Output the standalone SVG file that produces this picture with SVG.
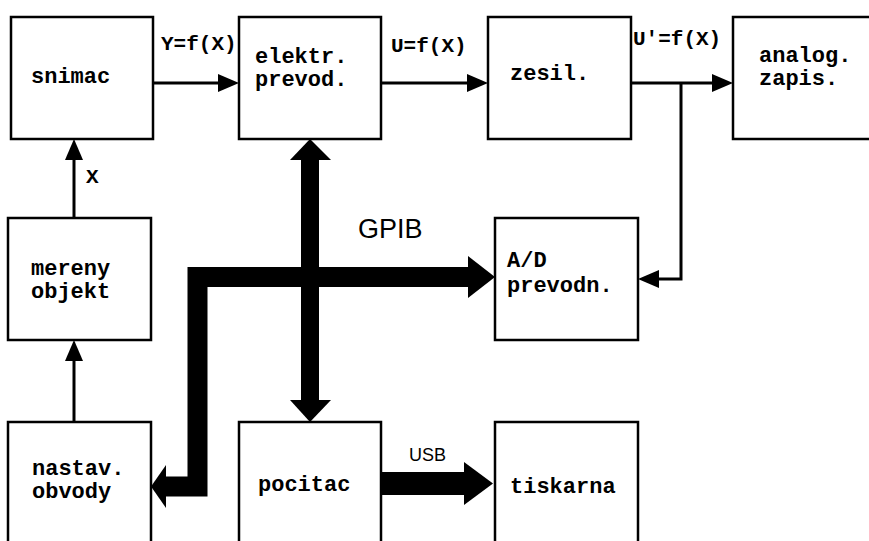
<svg xmlns="http://www.w3.org/2000/svg" width="869" height="541" viewBox="0 0 869 541">
  <style>
    .box { fill: #fff; stroke: #000; stroke-width: 2.5; }
    .lbl { font-family: "Liberation Mono", "Courier New", monospace; font-weight: bold; font-size: 22px; fill: #000; }
    .sig { font-family: "Liberation Mono", "Courier New", monospace; font-weight: bold; font-size: 21px; fill: #000; }
    .bus { font-family: "Liberation Sans", Arial, sans-serif; fill: #000; }
    .wire { fill: none; stroke: #000; stroke-width: 3; marker-end: url(#head); }
    .thick { fill: none; stroke: #000; stroke-linejoin: miter; }
    .big { fill: #000; }
  </style>
  <defs>
    <marker id="head" markerUnits="userSpaceOnUse" markerWidth="22" markerHeight="18" viewBox="0 0 21 18" refX="11" refY="9" orient="auto">
      <path d="M0,0 L21,9 L0,18 z" fill="#000"/>
    </marker>
  </defs>
  <rect width="869" height="541" fill="#fff"/>

  <g id="connectors">
    <!-- signal chain -->
    <path class="wire" d="M153,83 H229"/>
    <path class="wire" d="M381,83 H478"/>
    <path class="wire" d="M631,83 H723"/>
    <path class="wire" d="M681,83 V279 H648"/>
    <path class="wire" d="M74,218 V149"/>
    <path class="wire" d="M74,422 V350"/>
    <!-- GPIB bus -->
    <path class="thick" stroke-width="18" d="M310,158 V402"/>
    <polygon class="big" points="290,160 310,139 331,160"/>
    <polygon class="big" points="290,400 310,422 331,400"/>
    <path class="thick" stroke-width="20" d="M470,277 H197.5 V486.5 H164"/>
    <polygon class="big" points="468,256 495,277 468,298"/>
    <polygon class="big" points="166,465 151,486.5 166,508"/>
    <!-- USB -->
    <path class="thick" stroke-width="23" d="M381,483.5 H466"/>
    <polygon class="big" points="464,462 493,483.5 464,505"/>
    <!-- connector labels -->
    <text class="sig" x="161" y="50">Y=f(X)</text>
    <text class="sig" x="391" y="52">U=f(X)</text>
    <text class="sig" x="633" y="45">U'=f(X)</text>
    <text class="sig" x="86" y="183">X</text>
    <text class="bus" x="358" y="238" font-size="27">GPIB</text>
    <text class="bus" x="409" y="461" font-size="18">USB</text>
  </g>

  <g id="snimac">
    <rect class="box" x="11" y="17" width="142" height="122"/>
    <text class="lbl" x="31" y="83">snimac</text>
  </g>
  <g id="elektr-prevod">
    <rect class="box" x="239" y="17" width="142" height="122"/>
    <text class="lbl" x="255" y="63">elektr.</text>
    <text class="lbl" x="255" y="86">prevod.</text>
  </g>
  <g id="zesil">
    <rect class="box" x="488" y="17" width="143" height="122"/>
    <text class="lbl" x="510" y="80">zesil.</text>
  </g>
  <g id="analog-zapis">
    <rect class="box" x="733" y="17" width="140" height="122"/>
    <text class="lbl" x="759" y="62">analog.</text>
    <text class="lbl" x="759" y="85">zapis.</text>
  </g>
  <g id="mereny-objekt">
    <rect class="box" x="8" y="218" width="143" height="122"/>
    <text class="lbl" x="31" y="275">mereny</text>
    <text class="lbl" x="31" y="298">objekt</text>
  </g>
  <g id="ad-prevodnik">
    <rect class="box" x="495" y="218" width="143" height="122"/>
    <text class="lbl" x="507" y="267">A/D</text>
    <text class="lbl" x="507" y="292">prevodn.</text>
  </g>
  <g id="nastav-obvody">
    <rect class="box" x="8" y="422" width="143" height="125"/>
    <text class="lbl" x="32" y="475">nastav.</text>
    <text class="lbl" x="32" y="498">obvody</text>
  </g>
  <g id="pocitac">
    <rect class="box" x="239" y="422" width="142" height="125"/>
    <text class="lbl" x="258" y="491">pocitac</text>
  </g>
  <g id="tiskarna">
    <rect class="box" x="495" y="422" width="143" height="125"/>
    <text class="lbl" x="510" y="493">tiskarna</text>
  </g>
</svg>
